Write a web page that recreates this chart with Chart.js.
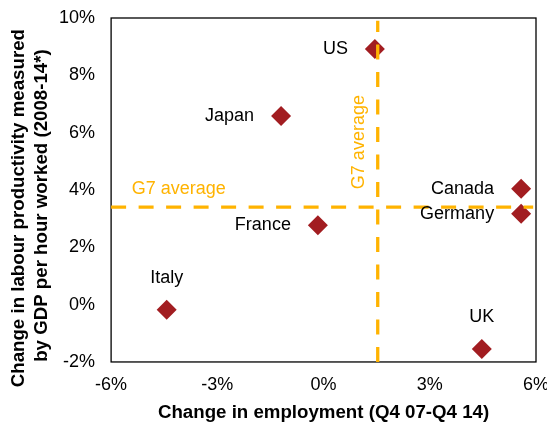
<!DOCTYPE html>
<html><head><meta charset="utf-8">
<script src="https://cdn.jsdelivr.net/npm/chart.js@4/dist/chart.umd.min.js"></script>
<style>html,body{margin:0;padding:0;background:#fff}</style>
</head><body>
<canvas id="c" width="547" height="425"></canvas>
<script>
// ---- data ----
const countries = ['US', 'Japan', 'Canada', 'Germany', 'France', 'Italy', 'UK'];
const employmentChange = [1.45, -1.2, 5.58, 5.58, -0.16, -4.43, 4.47];
const productivityChange = [8.92, 6.58, 4.04, 3.17, 2.77, -0.18, -1.55];
const g7EmploymentAvg = 1.53;
const g7ProductivityAvg = 3.4;
const g7HLineX = [-6, 5.92];
const g7VLineY = [-2, 9.9];
const xTicks = [-6, -3, 0, 3, 6];
const yTicks = [-2, 0, 2, 4, 6, 8, 10];
const g7Label = 'G7 average';
const xTitle = 'Change in employment (Q4 07-Q4 14)';
const yTitle = ['Change in labour productivity measured', 'by GDP per hour worked (2008-14*)'];

// ---- styles ----
const ORANGE = '#FFB300';
const MARKER = '#A21D21';
const FONT = '"Liberation Sans", Arial, sans-serif';
const labelPlacement = {US: 'left', Japan: 'left', Canada: 'left', Germany: 'left', France: 'left', Italy: 'above', UK: 'above'};
// trailing spaces shift the rotated title lines down to match the reference placement
const yTitleShift = [7, 6];

Chart.defaults.font.family = FONT;
Chart.defaults.font.size = 18;
Chart.defaults.color = '#000';

const boxPlugin = {
  id: 'box',
  beforeDatasetsDraw(chart) {
    const a = chart.chartArea, ctx = chart.ctx;
    ctx.save();
    ctx.strokeStyle = '#000';
    ctx.lineWidth = 1.3;
    ctx.strokeRect(a.left, a.top, a.right - a.left, a.bottom - a.top);
    ctx.restore();
  }
};

const labelPlugin = {
  id: 'labels',
  afterDatasetsDraw(chart) {
    const ctx = chart.ctx;
    const meta = chart.getDatasetMeta(2);
    const xs = chart.scales.x, ys = chart.scales.y;
    ctx.save();
    ctx.font = '18px ' + FONT;
    ctx.textBaseline = 'middle';
    ctx.fillStyle = '#000';
    meta.data.forEach((pt, i) => {
      const name = countries[i];
      if (labelPlacement[name] === 'left') {
        ctx.textAlign = 'right';
        ctx.fillText(name, pt.x - 27, pt.y);
      } else {
        ctx.textAlign = 'center';
        ctx.fillText(name, pt.x, pt.y - 32);
      }
    });
    ctx.fillStyle = ORANGE;
    ctx.textAlign = 'left';
    ctx.fillText(g7Label, xs.getPixelForValue(-5.42), ys.getPixelForValue(g7ProductivityAvg) - 18);
    ctx.save();
    ctx.translate(xs.getPixelForValue(g7EmploymentAvg) - 18.7, ys.getPixelForValue(5.67));
    ctx.rotate(-Math.PI / 2);
    ctx.textAlign = 'center';
    ctx.fillText(g7Label, 0, 0);
    ctx.restore();
    ctx.restore();
  }
};

new Chart(document.getElementById('c'), {
  type: 'scatter',
  data: {
    datasets: [
      {
        type: 'line',
        data: g7HLineX.map(x => ({x, y: g7ProductivityAvg})),
        borderColor: ORANGE, borderWidth: 3.3, borderDash: [15, 12.5],
        pointRadius: 0, fill: false
      },
      {
        type: 'line',
        data: g7VLineY.map(y => ({x: g7EmploymentAvg, y})),
        borderColor: ORANGE, borderWidth: 3.3, borderDash: [15, 12.5],
        pointRadius: 0, fill: false
      },
      {
        data: employmentChange.map((x, i) => ({x, y: productivityChange[i]})),
        pointStyle: 'rectRot', pointRadius: 10, pointHoverRadius: 10,
        backgroundColor: MARKER, borderColor: MARKER, borderWidth: 0
      }
    ]
  },
  options: {
    responsive: false,
    animation: false,
    devicePixelRatio: 1,
    layout: {padding: {left: 4, top: 18, right: 11, bottom: 1}},
    plugins: {legend: {display: false}, tooltip: {enabled: false}},
    scales: {
      x: {
        type: 'linear', min: xTicks[0], max: xTicks[xTicks.length - 1],
        grid: {display: false, drawTicks: false},
        border: {display: false},
        afterBuildTicks: s => { s.ticks = xTicks.map(v => ({value: v})); },
        afterFit: s => { s.paddingRight = 0; s.paddingLeft = 0; s.height -= s.options.ticks.padding; },
        ticks: {padding: 12, maxRotation: 0, callback: v => v + '%', font: {size: 18}},
        title: {display: true, text: xTitle, font: {size: 18.7, weight: 'bold'}, padding: {top: 6, bottom: 0}}
      },
      y: {
        type: 'linear', min: yTicks[0], max: yTicks[yTicks.length - 1],
        grid: {display: false, drawTicks: false},
        border: {display: false},
        afterBuildTicks: s => { s.ticks = yTicks.map(v => ({value: v})); },
        afterFit: s => { s.paddingTop = 0; s.paddingBottom = 0; s.width -= s.options.ticks.padding; },
        ticks: {padding: 16, callback: v => v + '%', font: {size: 18}},
        title: {
          display: true,
          text: yTitle.map((t, i) => t + ' '.repeat(yTitleShift[i])),
          font: {size: 18.7, weight: 'bold', lineHeight: 1.2},
          padding: {top: 3.8, bottom: 6.4}
        }
      }
    }
  },
  plugins: [boxPlugin, labelPlugin]
});
</script>
</body></html>
